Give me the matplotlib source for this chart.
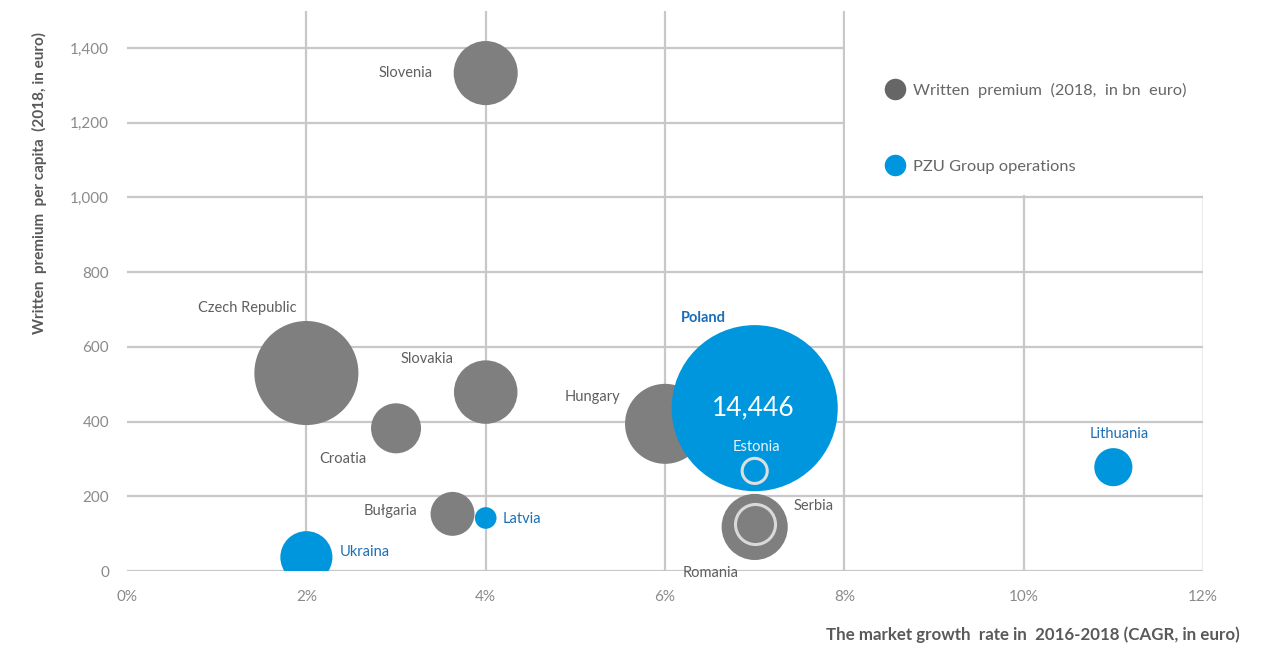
import matplotlib.pyplot as plt
from matplotlib.lines import Line2D
from matplotlib.patches import Rectangle
from matplotlib.ticker import FuncFormatter

plt.rcParams["font.family"] = ["Lato", "DejaVu Sans"]

# market data
countries = ["Czech Republic", "Slovenia", "Slovakia", "Croatia", "Bułgaria",
             "Hungary", "Romania", "Serbia",
             "Ukraina", "Latvia", "Poland", "Estonia", "Lithuania"]
growth = [2.0, 4.0, 4.0, 3.0, 3.63, 6.0, 7.0, 7.0, 2.0, 4.0, 7.0, 7.0, 11.0]
per_capita = [530, 1333, 479, 382, 153, 394, 118, 125, 37, 142, 436, 268, 278]
premium = [5670, 2150, 2110, 1310, 1010, 3350, 2290, 840, 1420, 245, 14446, 330, 760]
pzu = [False, False, False, False, False, False, False, False,
       True, True, True, True, True]

GRAY = "#7f7f7f"
BLUE = "#0096dd"
LABEL_GRAY = "#5f5f5f"
LABEL_BLUE = "#1a6fb8"

# label offsets in points (dx, dy, ha)
label_pos = {
    "Czech Republic": (-7, 47, "right"),
    "Slovenia": (-38, 0, "right"),
    "Slovakia": (-23, 24, "right"),
    "Croatia": (-21, -22, "right"),
    "Bułgaria": (-25, 2, "right"),
    "Hungary": (-32, 19, "right"),
    "Romania": (-32, -33, "center"),
    "Serbia": (28, 13, "left"),
    "Ukraina": (24, 4, "left"),
    "Latvia": (12, -1, "left"),
    "Poland": (-37, 65, "center"),
    "Estonia": (1, 17, "center"),
    "Lithuania": (4, 24, "center"),
}

fig = plt.figure(figsize=(12.63, 6.48), dpi=100)
ax = fig.add_axes([0.1006, 0.1188, 0.8519, 0.8647])

for i, name in enumerate(countries):
    face = BLUE if pzu[i] else GRAY
    edge = "none"
    lw = 0
    if name == "Estonia":
        face, edge, lw = "none", "#dedede", 2.2
    if name == "Serbia":
        edge, lw = "#d9d9d9", 2.2
    ax.scatter(growth[i], per_capita[i], s=premium[i] * 0.99, color=face,
               edgecolors=edge, linewidths=lw, zorder=3 + i * 0.01)

    dx, dy, ha = label_pos[name]
    color = LABEL_BLUE if pzu[i] else LABEL_GRAY
    weight = "normal"
    if name == "Poland":
        weight = "bold"
    if name == "Estonia":
        color = "#e8f4fb"
    ax.annotate(name, (growth[i], per_capita[i]), xytext=(dx, dy),
                textcoords="offset points", ha=ha, va="center",
                fontsize=10.5, color=color, fontweight=weight, zorder=5)

ip = countries.index("Poland")
ax.annotate(f"{premium[ip]:,}", (growth[ip], per_capita[ip]), xytext=(-1, 0),
            textcoords="offset points", ha="center", va="center",
            fontsize=19, color="white", zorder=5)

ax.set_xlim(0, 12)
ax.set_ylim(0, 1500)
ax.set_xticks(range(0, 13, 2))
ax.set_yticks(range(0, 1401, 200))
ax.xaxis.set_major_formatter(FuncFormatter(lambda v, p: f"{v:.0f}%"))
ax.yaxis.set_major_formatter(FuncFormatter(lambda v, p: f"{v:,.0f}"))
ax.tick_params(length=0, labelsize=11, labelcolor="#8a8a8a")
ax.tick_params(axis="x", pad=14)
ax.tick_params(axis="y", pad=13)

ax.grid(True, color="#c8c8c8", linewidth=1.6, zorder=0)
ax.set_axisbelow(True)
ax.get_xgridlines()[0].set_visible(False)
ax.get_xgridlines()[-1].set_color("#ececec")
for s in ax.spines.values():
    s.set_visible(False)

ax.set_ylabel("Written  premium  per capita  (2018, in euro)", fontsize=11,
              fontweight="bold", color="#595959")
ax.yaxis.set_label_coords(-0.074, 0.692)
ax.set_xlabel("The market growth  rate in  2016-2018 (CAGR, in euro)",
              fontsize=12.2, fontweight="bold", color="#595959", loc="right")
ax.xaxis.set_label_coords(1.034, -0.099)

# white panel behind the legend
ax.add_patch(Rectangle((0.6675, 0.6705), 0.4, 0.4, transform=ax.transAxes,
                       facecolor="white", edgecolor="none", zorder=1,
                       clip_on=False))

handles = [
    Line2D([], [], marker="o", linestyle="", markersize=15.5,
           markerfacecolor="#666666", markeredgecolor="none"),
    Line2D([], [], marker="o", linestyle="", markersize=15.5,
           markerfacecolor=BLUE, markeredgecolor="none"),
]
leg = ax.legend(handles, ["Written  premium  (2018,  in bn  euro)",
                          "PZU Group operations"],
                loc="upper left", bbox_to_anchor=(0.6967, 0.886),
                frameon=False, fontsize=11.8, labelspacing=3.75,
                handletextpad=0.5, handlelength=1.2, borderpad=0)
for t in leg.get_texts():
    t.set_color("#666666")

fig.savefig("out.png", dpi=100)
